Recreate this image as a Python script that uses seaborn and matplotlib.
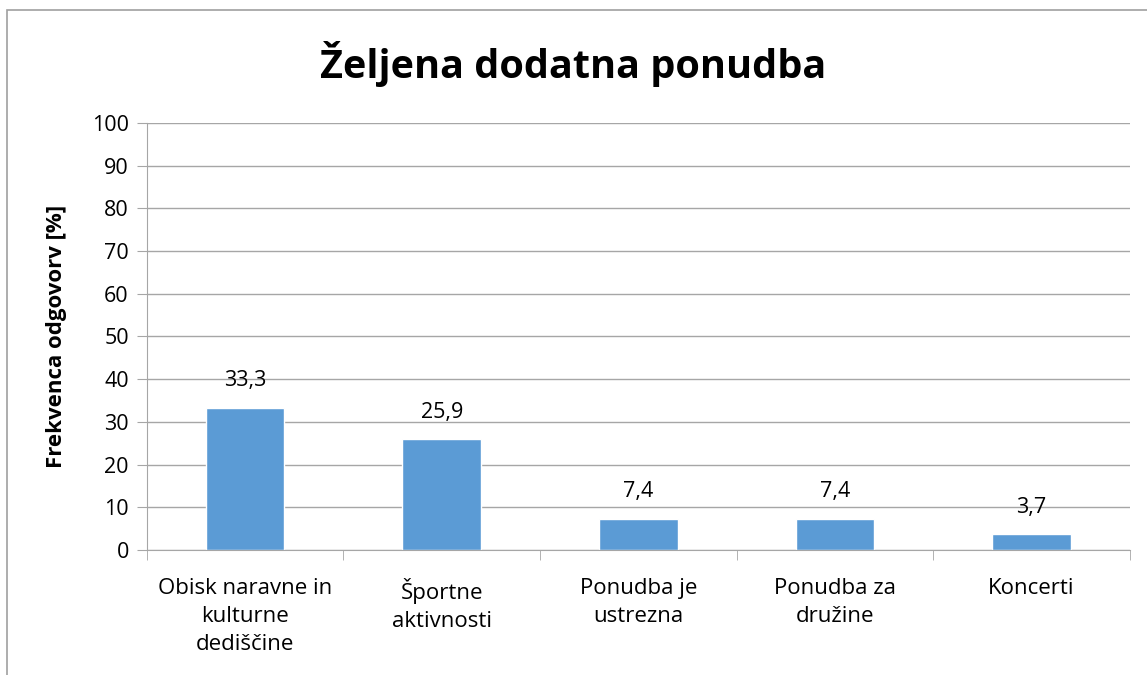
import seaborn as sns
import matplotlib.pyplot as plt
import pandas as pd
from matplotlib.patches import Rectangle

categories = ["Obisk naravne in\nkulturne\ndediščine", "Športne\naktivnosti",
              "Ponudba je\nustrezna", "Ponudba za\ndružine", "Koncerti"]
values = [33.3, 25.9, 7.4, 7.4, 3.7]
y_ticks = list(range(0, 101, 10))

df = pd.DataFrame({"kategorija": categories, "delez": values})

sns.set_style("white")
plt.rcParams['font.family'] = ['Open Sans', 'DejaVu Sans']
plt.rcParams['text.color'] = 'black'
plt.rcParams['xtick.color'] = 'black'
plt.rcParams['ytick.color'] = 'black'

fig = plt.figure(figsize=(11.47, 6.75), dpi=100)
ax = fig.add_axes([0.128, 0.185, 0.857, 0.633])

sns.barplot(data=df, x="kategorija", y="delez", color="#5B9BD5", width=0.4,
            saturation=1, ax=ax)

for i, v in enumerate(values):
    ax.annotate(f"{v:.1f}".replace(".", ","), (i, v), xytext=(0, 12),
                textcoords="offset points", ha="center", va="bottom",
                fontsize=15.5, color="black")

ax.set_ylim(0, 100)
ax.set_xlim(-0.5, len(categories) - 0.5)
ax.set_yticks(y_ticks)
ax.yaxis.grid(True, color="#a6a6a6", linewidth=1)
ax.set_axisbelow(True)
for s in ["top", "right"]:
    ax.spines[s].set_visible(False)
for s in ["left", "bottom"]:
    ax.spines[s].set_color("#a6a6a6")
ax.tick_params(axis="y", left=True, length=7, color="#a6a6a6", labelcolor="black",
               labelsize=15.5, pad=6)
ax.tick_params(axis="x", which="major", length=0, labelsize=16, pad=20,
               labelcolor="black")
ax.set_xticks([i - 0.5 for i in range(len(categories) + 1)], minor=True)
ax.tick_params(axis="x", which="minor", bottom=True, length=7, color="#a6a6a6")
for lab in ax.get_xticklabels():
    lab.set_linespacing(1.45)
ax.set_xlabel("")
ax.set_ylabel("Frekvenca odgovorv [%]", fontsize=16, fontweight="bold",
              labelpad=18, color="black")

fig.text(0.5, 0.905, "Željena dodatna ponudba", ha="center", va="center",
         fontsize=28.5, fontweight="bold", color="black")

fig.patches.append(Rectangle((7 / 1147, -0.1), 1.2, 1 - 10 / 675 + 0.1,
                             transform=fig.transFigure, fill=False,
                             edgecolor="#a0a0a0", linewidth=1.2))

fig.savefig("out.png", dpi=100)
